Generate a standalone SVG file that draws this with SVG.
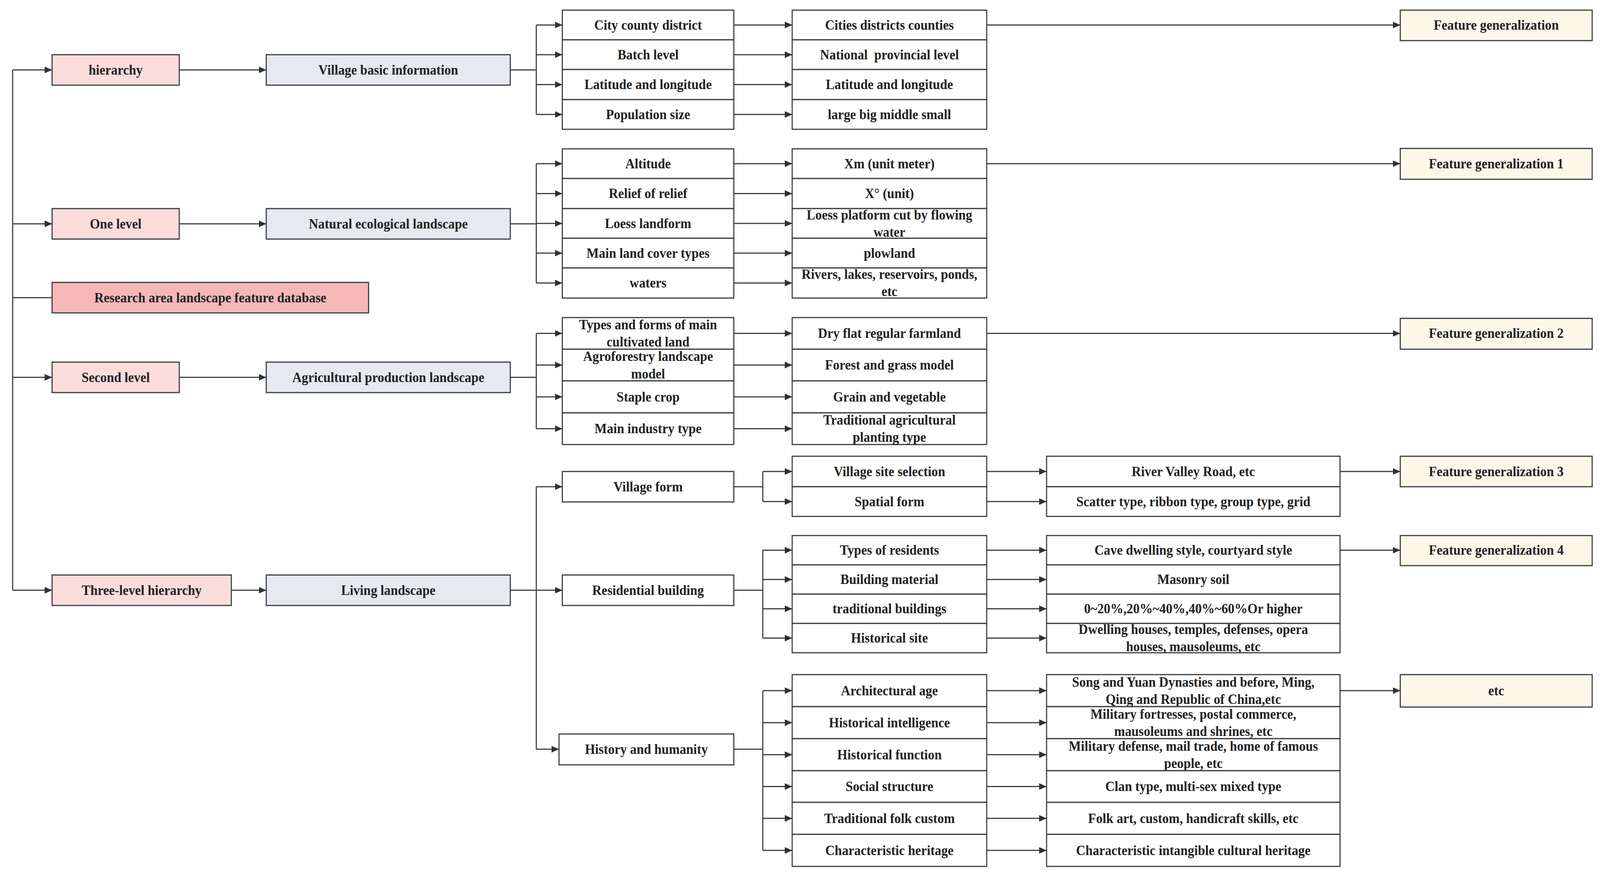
<svg xmlns="http://www.w3.org/2000/svg" width="4302" height="2240" viewBox="0 0 4302 2240">
<style>
rect{stroke:#3b3e42;stroke-width:3}
.lv{fill:#FADCDB}.db{fill:#F5B8B7}.ct{fill:#E6EAEE}.wt{fill:#FFFFFF}.fg{fill:#FBF8EA}
text{font-family:"Liberation Serif","Times New Roman",serif;font-weight:bold;font-size:35px;fill:#222;text-anchor:middle}
#connectors path{stroke:#3b3e42;stroke-width:3;fill:none}
.ar{marker-end:url(#ah)}
</style>
<defs>
<marker id="ah" markerUnits="userSpaceOnUse" markerWidth="21" markerHeight="18" refX="20" refY="8.5" orient="auto">
<path d="M0,0 L20,8.5 L0,17 z" fill="#2f3235"/>
</marker>
</defs>
<rect x="0" y="0" width="4302" height="2240" fill="#FFFFFF" style="stroke:none"/>
<g id="diagram" transform="scale(0.95211,1)">
<g id="connectors">
<path d="M34,179 V1511"/>
<path class="ar" d="M34,179 H140"/>
<path class="ar" d="M34,573 H140"/>
<path d="M34,762 H140"/>
<path class="ar" d="M34,966 H140"/>
<path class="ar" d="M34,1511 H140"/>
<path class="ar" d="M482,179 H716"/>
<path class="ar" d="M482,573 H716"/>
<path class="ar" d="M482,966 H716"/>
<path class="ar" d="M622,1511 H716"/>
<path d="M1372,179 H1442 M1442,64 V293"/>
<path class="ar" d="M1442,64 H1512"/>
<path class="ar" d="M1442,140 H1512"/>
<path class="ar" d="M1442,216.5 H1512"/>
<path class="ar" d="M1442,293 H1512"/>
<path class="ar" d="M1973,64 H2130"/>
<path class="ar" d="M1973,140 H2130"/>
<path class="ar" d="M1973,216.5 H2130"/>
<path class="ar" d="M1973,293 H2130"/>
<path class="ar" d="M2653,64 H3765"/>
<path d="M1372,573 H1442 M1442,419 V724.5"/>
<path class="ar" d="M1442,419 H1512"/>
<path class="ar" d="M1442,495.5 H1512"/>
<path class="ar" d="M1442,572 H1512"/>
<path class="ar" d="M1442,648 H1512"/>
<path class="ar" d="M1442,724.5 H1512"/>
<path class="ar" d="M1973,419 H2130"/>
<path class="ar" d="M1973,495.5 H2130"/>
<path class="ar" d="M1973,572 H2130"/>
<path class="ar" d="M1973,648 H2130"/>
<path class="ar" d="M1973,724.5 H2130"/>
<path class="ar" d="M2653,419 H3765"/>
<path d="M1372,966 H1442 M1442,853.5 V1097.5"/>
<path class="ar" d="M1442,853.5 H1512"/>
<path class="ar" d="M1442,934.5 H1512"/>
<path class="ar" d="M1442,1016 H1512"/>
<path class="ar" d="M1442,1097.5 H1512"/>
<path class="ar" d="M1973,853.5 H2130"/>
<path class="ar" d="M1973,934.5 H2130"/>
<path class="ar" d="M1973,1016 H2130"/>
<path class="ar" d="M1973,1097.5 H2130"/>
<path class="ar" d="M2653,853.5 H3765"/>
<path d="M1372,1511 H1442 M1442,1246 V1918"/>
<path class="ar" d="M1442,1246 H1512"/>
<path class="ar" d="M1442,1511 H1512"/>
<path class="ar" d="M1442,1918 H1503"/>
<path d="M1973,1246 H2051 M2051,1207 V1284"/>
<path class="ar" d="M2051,1207 H2130"/>
<path class="ar" d="M2051,1284 H2130"/>
<path class="ar" d="M2653,1207 H2814"/>
<path class="ar" d="M2653,1284 H2814"/>
<path class="ar" d="M3603,1207 H3765"/>
<path d="M1973,1511 H2051 M2051,1408.5 V1633.5"/>
<path class="ar" d="M2051,1408.5 H2130"/>
<path class="ar" d="M2051,1483.5 H2130"/>
<path class="ar" d="M2051,1558.5 H2130"/>
<path class="ar" d="M2051,1633.5 H2130"/>
<path class="ar" d="M2653,1408.5 H2814"/>
<path class="ar" d="M2653,1483.5 H2814"/>
<path class="ar" d="M2653,1558.5 H2814"/>
<path class="ar" d="M2653,1633.5 H2814"/>
<path class="ar" d="M3603,1408.5 H3765"/>
<path d="M1973,1918 H2051 M2051,1768 V2177"/>
<path class="ar" d="M2051,1768 H2130"/>
<path class="ar" d="M2051,1850 H2130"/>
<path class="ar" d="M2051,1932 H2130"/>
<path class="ar" d="M2051,2013.5 H2130"/>
<path class="ar" d="M2051,2095 H2130"/>
<path class="ar" d="M2051,2177 H2130"/>
<path class="ar" d="M2653,1768 H2814"/>
<path class="ar" d="M2653,1850 H2814"/>
<path class="ar" d="M2653,1932 H2814"/>
<path class="ar" d="M2653,2013.5 H2814"/>
<path class="ar" d="M2653,2095 H2814"/>
<path class="ar" d="M2653,2177 H2814"/>
<path class="ar" d="M3603,1768 H3765"/>
</g>

<g id="n-hierarchy"><rect class="lv" x="140" y="140" width="342" height="78"/><text x="311" y="191">hierarchy</text></g>
<g id="n-one-level"><rect class="lv" x="140" y="534" width="342" height="78"/><text x="311" y="585">One level</text></g>
<g id="n-database"><rect class="db" x="140" y="723" width="851" height="78"/><text x="565.5" y="774">Research area landscape feature database</text></g>
<g id="n-second-level"><rect class="lv" x="140" y="927" width="342" height="78"/><text x="311" y="978">Second level</text></g>
<g id="n-three-level"><rect class="lv" x="140" y="1472" width="482" height="78"/><text x="381" y="1523">Three-level hierarchy</text></g>

<g id="n-village-basic"><rect class="ct" x="716" y="140" width="656" height="78"/><text x="1044" y="191">Village basic information</text></g>
<g id="n-natural"><rect class="ct" x="716" y="534" width="656" height="78"/><text x="1044" y="585">Natural ecological landscape</text></g>
<g id="n-agricultural"><rect class="ct" x="716" y="927" width="656" height="78"/><text x="1044" y="978">Agricultural production landscape</text></g>
<g id="n-living"><rect class="ct" x="716" y="1472" width="656" height="78"/><text x="1044" y="1523">Living landscape</text></g>

<g id="n-a0-1"><rect class="wt" x="1512" y="26" width="461" height="76"/><text x="1742.5" y="76">City county district</text></g>
<g id="n-a0-2"><rect class="wt" x="1512" y="102" width="461" height="76"/><text x="1742.5" y="152">Batch level</text></g>
<g id="n-a0-3"><rect class="wt" x="1512" y="178" width="461" height="77"/><text x="1742.5" y="228.5">Latitude and longitude</text></g>
<g id="n-a0-4"><rect class="wt" x="1512" y="255" width="461" height="76"/><text x="1742.5" y="305">Population size</text></g>
<g id="n-b0-1"><rect class="wt" x="2130" y="26" width="523" height="76"/><text x="2391.5" y="76">Cities districts counties</text></g>
<g id="n-b0-2"><rect class="wt" x="2130" y="102" width="523" height="76"/><text x="2391.5" y="152" xml:space="preserve">National  provincial level</text></g>
<g id="n-b0-3"><rect class="wt" x="2130" y="178" width="523" height="77"/><text x="2391.5" y="228.5">Latitude and longitude</text></g>
<g id="n-b0-4"><rect class="wt" x="2130" y="255" width="523" height="76"/><text x="2391.5" y="305">large big middle small</text></g>

<g id="n-a1-1"><rect class="wt" x="1512" y="381" width="461" height="76"/><text x="1742.5" y="431">Altitude</text></g>
<g id="n-a1-2"><rect class="wt" x="1512" y="457" width="461" height="77"/><text x="1742.5" y="507.5">Relief of relief</text></g>
<g id="n-a1-3"><rect class="wt" x="1512" y="534" width="461" height="76"/><text x="1742.5" y="584">Loess landform</text></g>
<g id="n-a1-4"><rect class="wt" x="1512" y="610" width="461" height="76"/><text x="1742.5" y="660">Main land cover types</text></g>
<g id="n-a1-5"><rect class="wt" x="1512" y="686" width="461" height="77"/><text x="1742.5" y="736.5">waters</text></g>
<g id="n-b1-1"><rect class="wt" x="2130" y="381" width="523" height="76"/><text x="2391.5" y="431">Xm (unit meter)</text></g>
<g id="n-b1-2"><rect class="wt" x="2130" y="457" width="523" height="77"/><text x="2391.5" y="507.5">X° (unit)</text></g>
<g id="n-b1-3"><rect class="wt" x="2130" y="534" width="523" height="76"/><text x="2391.5" y="562"><tspan x="2391.5">Loess platform cut by flowing</tspan><tspan x="2391.5" dy="44">water</tspan></text></g>
<g id="n-b1-4"><rect class="wt" x="2130" y="610" width="523" height="76"/><text x="2391.5" y="660">plowland</text></g>
<g id="n-b1-5"><rect class="wt" x="2130" y="686" width="523" height="77"/><text x="2391.5" y="714.5"><tspan x="2391.5">Rivers, lakes, reservoirs, ponds,</tspan><tspan x="2391.5" dy="44">etc</tspan></text></g>

<g id="n-a2-1"><rect class="wt" x="1512" y="813" width="461" height="81"/><text x="1742.5" y="843.5"><tspan x="1742.5">Types and forms of main</tspan><tspan x="1742.5" dy="44">cultivated land</tspan></text></g>
<g id="n-a2-2"><rect class="wt" x="1512" y="894" width="461" height="81"/><text x="1742.5" y="924.5"><tspan x="1742.5">Agroforestry landscape</tspan><tspan x="1742.5" dy="44">model</tspan></text></g>
<g id="n-a2-3"><rect class="wt" x="1512" y="975" width="461" height="82"/><text x="1742.5" y="1028">Staple crop</text></g>
<g id="n-a2-4"><rect class="wt" x="1512" y="1057" width="461" height="81"/><text x="1742.5" y="1109.5">Main industry type</text></g>
<g id="n-b2-1"><rect class="wt" x="2130" y="813" width="523" height="81"/><text x="2391.5" y="865.5">Dry flat regular farmland</text></g>
<g id="n-b2-2"><rect class="wt" x="2130" y="894" width="523" height="81"/><text x="2391.5" y="946.5">Forest and grass model</text></g>
<g id="n-b2-3"><rect class="wt" x="2130" y="975" width="523" height="82"/><text x="2391.5" y="1028">Grain and vegetable</text></g>
<g id="n-b2-4"><rect class="wt" x="2130" y="1057" width="523" height="81"/><text x="2391.5" y="1087.5"><tspan x="2391.5">Traditional agricultural</tspan><tspan x="2391.5" dy="44">planting type</tspan></text></g>

<g id="n-village-form"><rect class="wt" x="1512" y="1207" width="461" height="78"/><text x="1742.5" y="1258">Village form</text></g>
<g id="n-residential"><rect class="wt" x="1512" y="1472" width="461" height="78"/><text x="1742.5" y="1523">Residential building</text></g>
<g id="n-history"><rect class="wt" x="1503" y="1879" width="470" height="79"/><text x="1738" y="1930">History and humanity</text></g>

<g id="n-b3-1"><rect class="wt" x="2130" y="1168" width="523" height="78"/><text x="2391.5" y="1219">Village site selection</text></g>
<g id="n-b3-2"><rect class="wt" x="2130" y="1246" width="523" height="76"/><text x="2391.5" y="1296">Spatial form</text></g>
<g id="n-c3-1"><rect class="wt" x="2814" y="1168" width="789" height="78"/><text x="3208.5" y="1219">River Valley Road, etc</text></g>
<g id="n-c3-2"><rect class="wt" x="2814" y="1246" width="789" height="76"/><text x="3208.5" y="1296">Scatter type, ribbon type, group type, grid</text></g>

<g id="n-b4-1"><rect class="wt" x="2130" y="1371" width="523" height="75"/><text x="2391.5" y="1420.5">Types of residents</text></g>
<g id="n-b4-2"><rect class="wt" x="2130" y="1446" width="523" height="75"/><text x="2391.5" y="1495.5">Building material</text></g>
<g id="n-b4-3"><rect class="wt" x="2130" y="1521" width="523" height="75"/><text x="2391.5" y="1570.5">traditional buildings</text></g>
<g id="n-b4-4"><rect class="wt" x="2130" y="1596" width="523" height="75"/><text x="2391.5" y="1645.5">Historical site</text></g>
<g id="n-c4-1"><rect class="wt" x="2814" y="1371" width="789" height="75"/><text x="3208.5" y="1420.5">Cave dwelling style, courtyard style</text></g>
<g id="n-c4-2"><rect class="wt" x="2814" y="1446" width="789" height="75"/><text x="3208.5" y="1495.5">Masonry soil</text></g>
<g id="n-c4-3"><rect class="wt" x="2814" y="1521" width="789" height="75"/><text x="3208.5" y="1570.5">0~20%,20%~40%,40%~60%Or higher</text></g>
<g id="n-c4-4"><rect class="wt" x="2814" y="1596" width="789" height="75"/><text x="3208.5" y="1623.5"><tspan x="3208.5">Dwelling houses, temples, defenses, opera</tspan><tspan x="3208.5" dy="44">houses, mausoleums, etc</tspan></text></g>

<g id="n-b5-1"><rect class="wt" x="2130" y="1727" width="523" height="82"/><text x="2391.5" y="1780">Architectural age</text></g>
<g id="n-b5-2"><rect class="wt" x="2130" y="1809" width="523" height="82"/><text x="2391.5" y="1862">Historical intelligence</text></g>
<g id="n-b5-3"><rect class="wt" x="2130" y="1891" width="523" height="82"/><text x="2391.5" y="1944">Historical function</text></g>
<g id="n-b5-4"><rect class="wt" x="2130" y="1973" width="523" height="81"/><text x="2391.5" y="2025.5">Social structure</text></g>
<g id="n-b5-5"><rect class="wt" x="2130" y="2054" width="523" height="82"/><text x="2391.5" y="2107">Traditional folk custom</text></g>
<g id="n-b5-6"><rect class="wt" x="2130" y="2136" width="523" height="82"/><text x="2391.5" y="2189">Characteristic heritage</text></g>
<g id="n-c5-1"><rect class="wt" x="2814" y="1727" width="789" height="82"/><text x="3208.5" y="1758"><tspan x="3208.5">Song and Yuan Dynasties and before, Ming,</tspan><tspan x="3208.5" dy="44">Qing and Republic of China,etc</tspan></text></g>
<g id="n-c5-2"><rect class="wt" x="2814" y="1809" width="789" height="82"/><text x="3208.5" y="1840"><tspan x="3208.5">Military fortresses, postal commerce,</tspan><tspan x="3208.5" dy="44">mausoleums and shrines, etc</tspan></text></g>
<g id="n-c5-3"><rect class="wt" x="2814" y="1891" width="789" height="82"/><text x="3208.5" y="1922"><tspan x="3208.5">Military defense, mail trade, home of famous</tspan><tspan x="3208.5" dy="44">people, etc</tspan></text></g>
<g id="n-c5-4"><rect class="wt" x="2814" y="1973" width="789" height="81"/><text x="3208.5" y="2025.5">Clan type, multi-sex mixed type</text></g>
<g id="n-c5-5"><rect class="wt" x="2814" y="2054" width="789" height="82"/><text x="3208.5" y="2107">Folk art, custom, handicraft skills, etc</text></g>
<g id="n-c5-6"><rect class="wt" x="2814" y="2136" width="789" height="82"/><text x="3208.5" y="2189">Characteristic intangible cultural heritage</text></g>

<g id="n-fg0"><rect class="fg" x="3765" y="26" width="516" height="78"/><text x="4023" y="76">Feature generalization</text></g>
<g id="n-fg1"><rect class="fg" x="3765" y="380" width="516" height="79"/><text x="4023" y="431">Feature generalization 1</text></g>
<g id="n-fg2"><rect class="fg" x="3765" y="815" width="516" height="79"/><text x="4023" y="865.5">Feature generalization 2</text></g>
<g id="n-fg3"><rect class="fg" x="3765" y="1168" width="516" height="78"/><text x="4023" y="1219">Feature generalization 3</text></g>
<g id="n-fg4"><rect class="fg" x="3765" y="1371" width="516" height="77"/><text x="4023" y="1420.5">Feature generalization 4</text></g>
<g id="n-etc"><rect class="fg" x="3765" y="1727" width="516" height="83"/><text x="4023" y="1780">etc</text></g>
</g>
</svg>
